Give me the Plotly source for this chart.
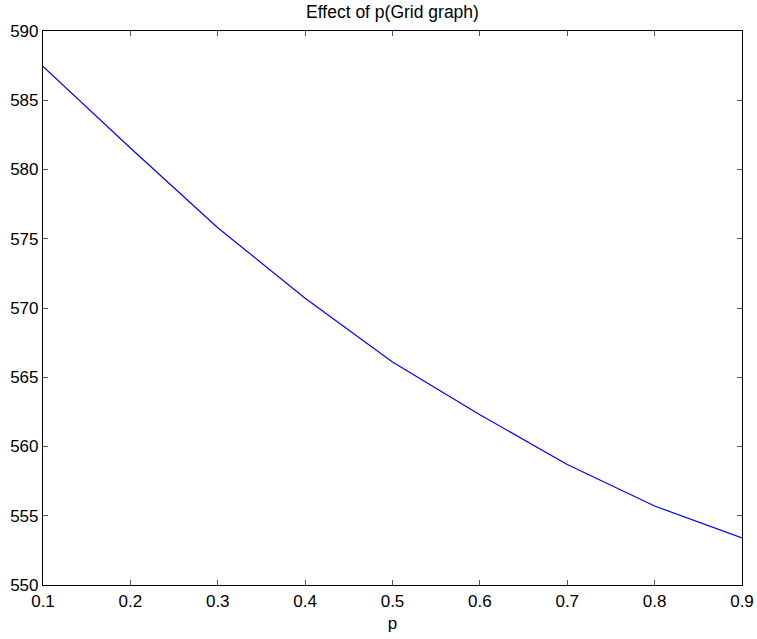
import plotly.graph_objects as go

p_values = [0.1, 0.2, 0.3, 0.4, 0.5, 0.6, 0.7, 0.8, 0.9]
y_values = [587.45, 581.55, 575.8, 570.7, 566.1, 562.3, 558.7, 555.7, 553.4]
x_ticks = [0.1, 0.2, 0.3, 0.4, 0.5, 0.6, 0.7, 0.8, 0.9]
y_ticks = [550, 555, 560, 565, 570, 575, 580, 585, 590]

FONT = "Liberation Sans, Arial, Helvetica, sans-serif"

fig = go.Figure()
fig.add_trace(go.Scatter(x=p_values, y=y_values, mode="lines",
                         line=dict(color="#0000ff", width=1.2), showlegend=False))

axis_common = dict(showline=True, linecolor="black", linewidth=1.2, mirror="ticks",
                   ticks="inside", ticklen=5, tickcolor="#555555", tickwidth=1,
                   showgrid=False, zeroline=False, automargin=False,
                   tickfont=dict(family=FONT, size=17, color="black"))

fig.update_layout(
    width=757, height=639,
    margin=dict(l=43, r=15, t=31, b=54),
    paper_bgcolor="white", plot_bgcolor="white",
    title=dict(text="Effect of p(Grid graph)", x=(43 + 742) / 2 / 757, xanchor="center",
               y=1 - 12 / 639, yanchor="middle",
               font=dict(family=FONT, size=17.5, color="black")),
    xaxis=dict(range=[0.1, 0.9], tickvals=x_ticks, ticktext=[f"{v:.1f}" for v in x_ticks],
               title=dict(text="p", font=dict(family=FONT, size=17, color="black"), standoff=7),
               **axis_common),
    yaxis=dict(range=[550, 590], tickvals=y_ticks, ticktext=[str(v) for v in y_ticks],
               **axis_common),
)

fig.write_html("out.html")
